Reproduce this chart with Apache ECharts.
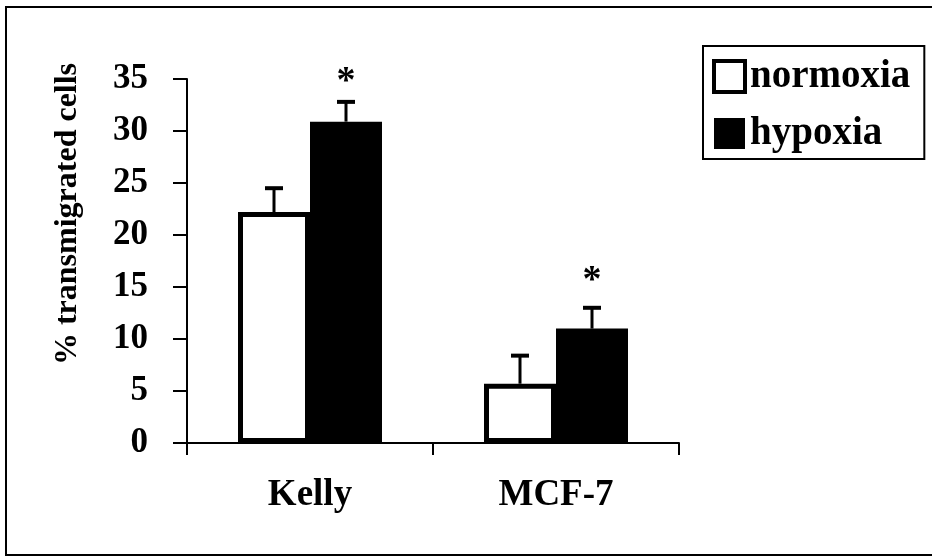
<!DOCTYPE html>
<html>
<head>
<meta charset="utf-8">
<script src="https://cdn.jsdelivr.net/npm/echarts@6/dist/echarts.min.js"></script>
<style>html,body{margin:0;padding:0;background:#fff}#c{width:932px;height:557px}</style>
</head>
<body>
<div id="c"></div>
<script>
const categories = ['Kelly', 'MCF-7'];
const normoxia = [22.2, 5.7];
const normoxiaErr = [2.3, 2.7];
const hypoxia = [30.9, 11.0];
const hypoxiaErr = [1.9, 2.0];
const starLevel = [34.7, 15.6];
const yTicks = { min: 0, max: 35, interval: 5 };
const yTitle = '% transmigrated cells';

const FONT = '"Liberation Serif", "Times New Roman", serif';
const BAR_W = 72;

const chart = echarts.init(document.getElementById('c'), null, { renderer: 'canvas' });

function errRenderer(offset) {
  return function (params, api) {
    const cat = api.value(0), v = api.value(1), e = api.value(2);
    const base = api.coord([cat, v]);
    const top = api.coord([cat, v + e]);
    const x = base[0] + offset;
    return {
      type: 'group',
      children: [
        { type: 'line', shape: { x1: x, y1: base[1], x2: x, y2: top[1] }, style: { stroke: '#000', lineWidth: 3 } },
        { type: 'line', shape: { x1: x - 9, y1: top[1], x2: x + 9, y2: top[1] }, style: { stroke: '#000', lineWidth: 4 } }
      ]
    };
  };
}

const option = {
  backgroundColor: '#fff',
  animation: false,
  graphic: [
    { type: 'rect', shape: { x: 6, y: 7, width: 960, height: 548 }, style: { fill: 'none', stroke: '#000', lineWidth: 2 }, silent: true },
    { type: 'text', x: 68, y: 214, rotation: Math.PI / 2, silent: true,
      style: { text: yTitle, align: 'center', verticalAlign: 'middle', fontFamily: FONT, fontWeight: 'bold', fontSize: 32, fill: '#000' } }
  ],
  grid: { left: 187, right: 253, top: 79, bottom: 114 },
  legend: {
    orient: 'vertical',
    left: 703, top: 46,
    padding: [11, 14, 6, 9],
    borderColor: '#000', borderWidth: 2,
    itemWidth: 31, itemHeight: 31, itemGap: 18, itemTextGap: 6,
    icon: 'rect',
    textStyle: { fontFamily: FONT, fontWeight: 'bold', fontSize: 39, color: '#000' },
    data: [
      { name: 'normoxia', itemStyle: { color: '#fff', borderColor: '#000', borderWidth: 4 } },
      { name: 'hypoxia', itemStyle: { color: '#000', borderColor: '#000', borderWidth: 0 } }
    ]
  },
  xAxis: {
    type: 'category',
    data: categories,
    axisLine: { lineStyle: { color: '#000', width: 2 } },
    axisTick: { show: true, length: 12, lineStyle: { color: '#000', width: 2 } },
    axisLabel: { color: '#000', fontFamily: FONT, fontWeight: 'bold', fontSize: 37, margin: 34 }
  },
  yAxis: {
    type: 'value',
    min: yTicks.min, max: yTicks.max, interval: yTicks.interval,
    axisLine: { show: true, lineStyle: { color: '#000', width: 2 } },
    axisTick: { show: true, length: 14, lineStyle: { color: '#000', width: 2 } },
    splitLine: { show: false },
    axisLabel: { color: '#000', fontFamily: FONT, fontWeight: 'bold', fontSize: 35, margin: 39 }
  },
  series: [
    {
      name: 'normoxia', type: 'bar', data: normoxia, barWidth: BAR_W, barGap: '0%',
      itemStyle: { color: '#fff', borderColor: '#000', borderWidth: 5 }, z: 2
    },
    {
      name: 'hypoxia', type: 'bar', data: hypoxia, barWidth: BAR_W, barGap: '0%',
      itemStyle: { color: '#000', borderColor: '#000', borderWidth: 0 }, z: 2
    },
    {
      type: 'custom', name: 'normoxia-err', z: 5,
      renderItem: errRenderer(-BAR_W / 2),
      data: categories.map((c, i) => [i, normoxia[i], normoxiaErr[i]]),
      encode: { x: 0, y: [1, 2] }
    },
    {
      type: 'custom', name: 'hypoxia-err', z: 5,
      renderItem: errRenderer(BAR_W / 2),
      data: categories.map((c, i) => [i, hypoxia[i], hypoxiaErr[i]]),
      encode: { x: 0, y: [1, 2] }
    },
    {
      type: 'custom', name: 'stars', z: 5,
      renderItem: function (params, api) {
        const p = api.coord([api.value(0), api.value(1)]);
        return {
          type: 'text',
          style: { text: '*', x: p[0] + BAR_W / 2, y: p[1], align: 'center', verticalAlign: 'middle',
                   fontFamily: FONT, fontWeight: 'bold', fontSize: 38, fill: '#000' }
        };
      },
      data: categories.map((c, i) => [i, starLevel[i]]),
      encode: { x: 0, y: 1 }
    }
  ]
};
chart.setOption(option);
</script>
</body>
</html>
